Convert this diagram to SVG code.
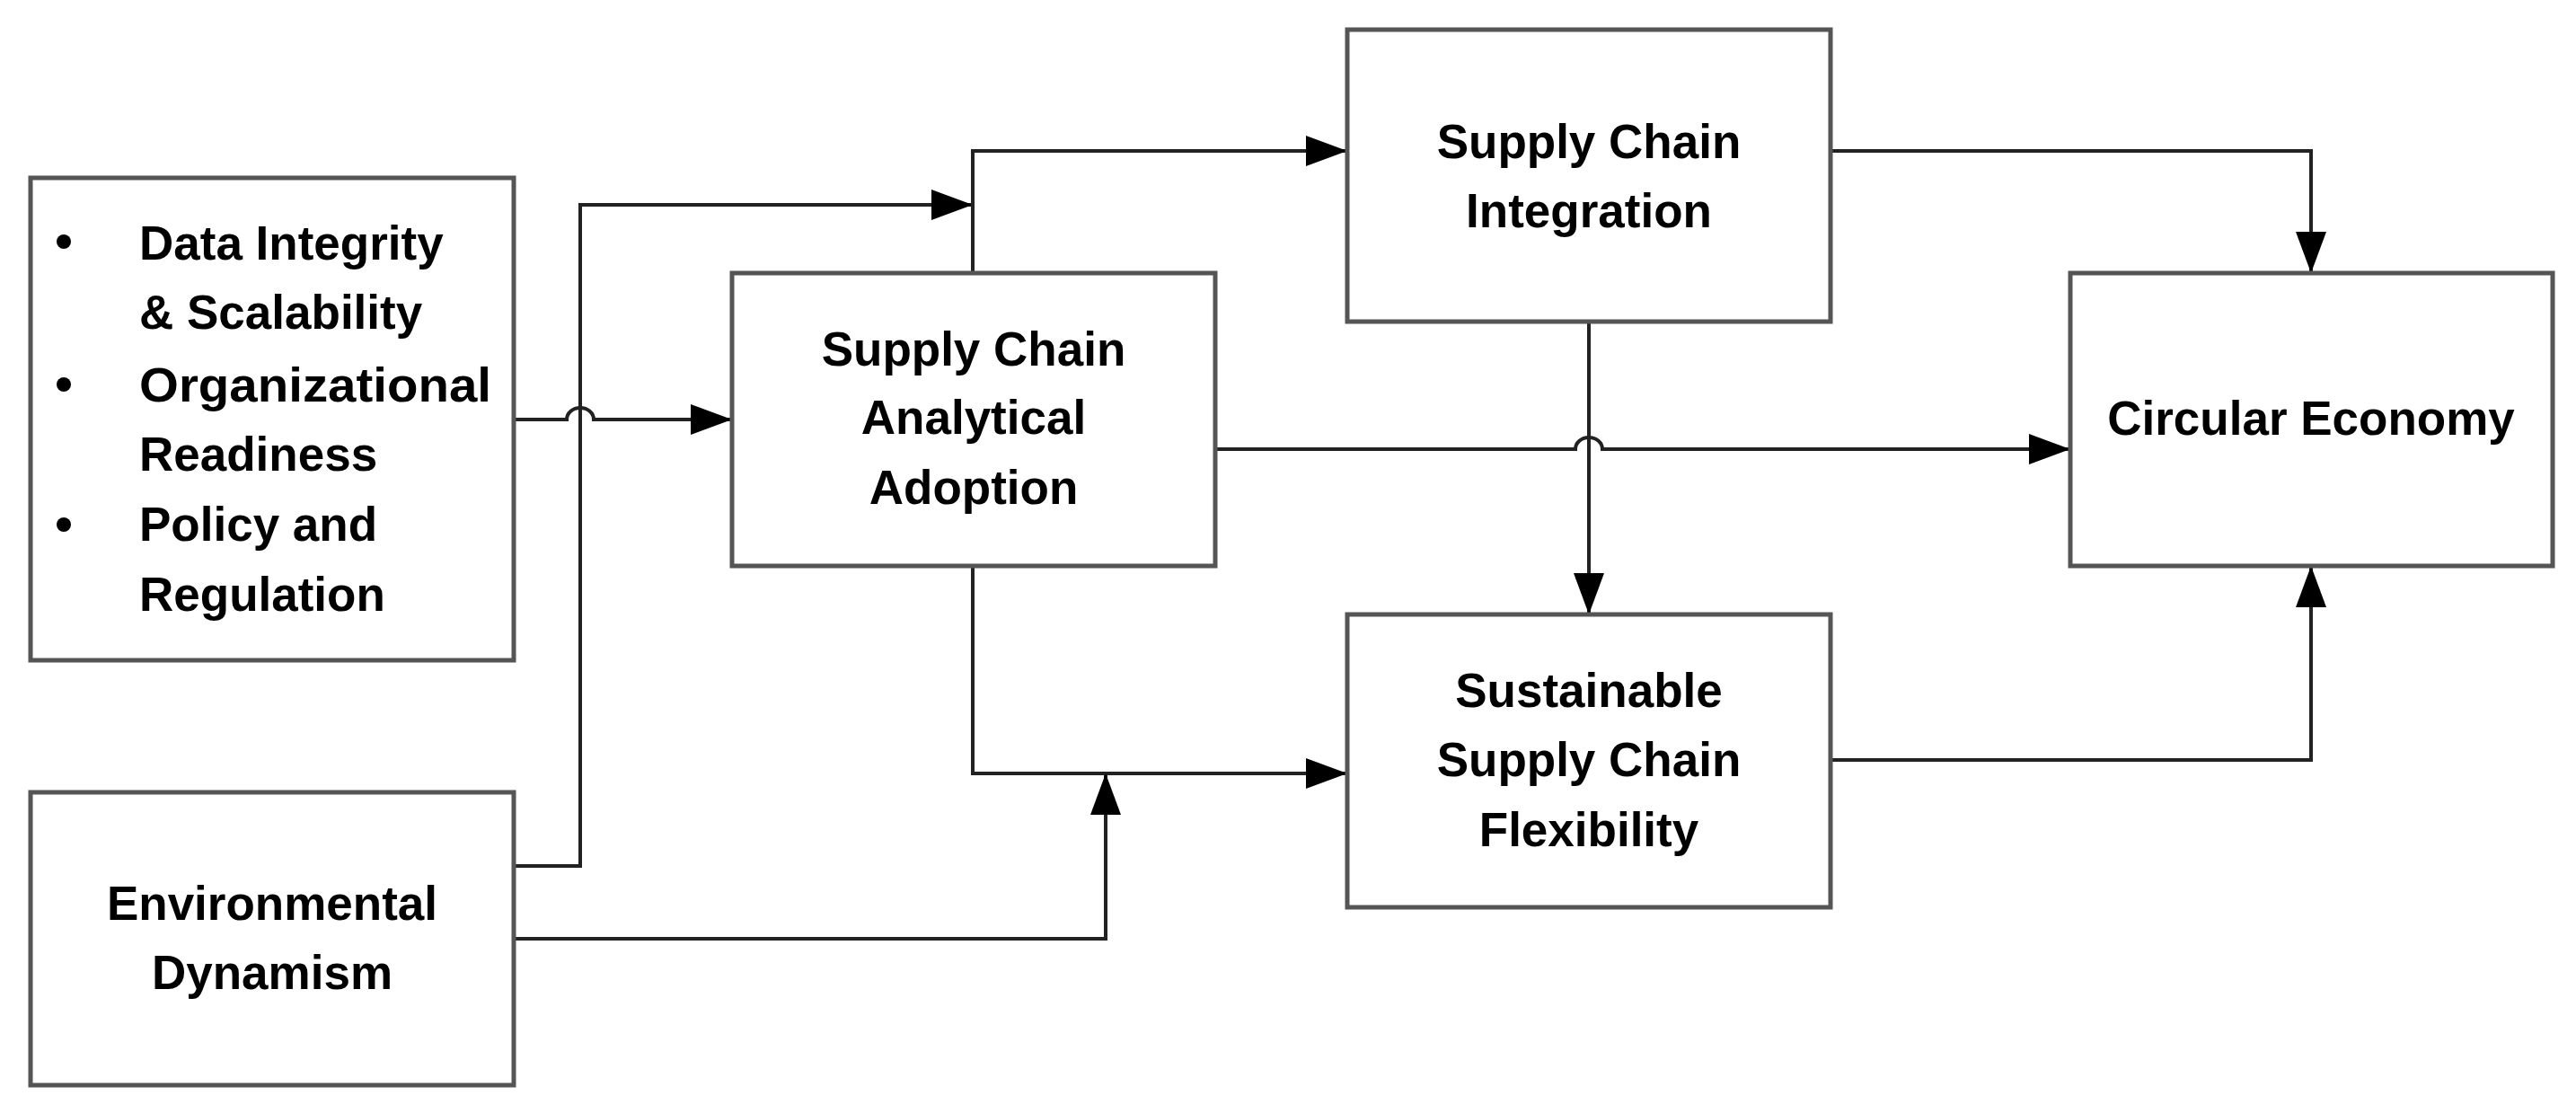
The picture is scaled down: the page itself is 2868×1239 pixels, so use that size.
<svg xmlns="http://www.w3.org/2000/svg" width="2868" height="1239" viewBox="0 0 2868 1239">
<style>
.box{fill:#fff;stroke:#555;stroke-width:5}
.t{font-family:"Liberation Sans",Arial,sans-serif;font-weight:bold;font-size:53px;fill:#000}
.c{text-anchor:middle}
.ln{fill:none;stroke:#222;stroke-width:4}
</style>
<defs>
<marker id="a" markerUnits="userSpaceOnUse" markerWidth="48" markerHeight="34" refX="46" refY="17" orient="auto">
<path d="M0,0 L46,17 L0,34 Z" fill="#000"/>
</marker>
</defs>
<rect width="2868" height="1239" fill="#fff"/>
<g id="connectors">
<path class="ln" d="M572,467 H631 A15,13 0 0 1 661,467 H815" marker-end="url(#a)"/>
<path class="ln" d="M572,964 H646 V228 H1083" marker-end="url(#a)"/>
<path class="ln" d="M1083,304 V168 H1500" marker-end="url(#a)"/>
<path class="ln" d="M2038,168 H2573 V304" marker-end="url(#a)"/>
<path class="ln" d="M1769,358 V684" marker-end="url(#a)"/>
<path class="ln" d="M1353,500 H1754 A15,13 0 0 1 1784,500 H2305" marker-end="url(#a)"/>
<path class="ln" d="M2038,846 H2573 V630" marker-end="url(#a)"/>
<path class="ln" d="M1083,630 V861 H1500" marker-end="url(#a)"/>
<path class="ln" d="M572,1045 H1231 V861" marker-end="url(#a)"/>
</g>
<g id="drivers">
<rect class="box" x="34" y="198" width="538" height="537"/>
<circle cx="71" cy="269" r="8"/><circle cx="71" cy="428" r="8"/><circle cx="71" cy="584" r="8"/>
<text class="t" x="155" y="289">Data Integrity</text>
<text class="t" x="155" y="366">&amp; Scalability</text>
<text class="t" x="155" y="447" textLength="392" lengthAdjust="spacingAndGlyphs">Organizational</text>
<text class="t" x="155" y="524">Readiness</text>
<text class="t" x="155" y="602">Policy and</text>
<text class="t" x="155" y="680">Regulation</text>
</g>
<g id="env">
<rect class="box" x="34" y="882" width="538" height="326"/>
<text class="t c" x="303" y="1024">Environmental</text>
<text class="t c" x="303" y="1101">Dynamism</text>
</g>
<g id="scaa">
<rect class="box" x="815" y="304" width="538" height="326"/>
<text class="t c" x="1084" y="407">Supply Chain</text>
<text class="t c" x="1084" y="483">Analytical</text>
<text class="t c" x="1084" y="561">Adoption</text>
</g>
<g id="sci">
<rect class="box" x="1500" y="33" width="538" height="325"/>
<text class="t c" x="1769" y="176">Supply Chain</text>
<text class="t c" x="1769" y="253">Integration</text>
</g>
<g id="sscf">
<rect class="box" x="1500" y="684" width="538" height="326"/>
<text class="t c" x="1769" y="787">Sustainable</text>
<text class="t c" x="1769" y="864">Supply Chain</text>
<text class="t c" x="1769" y="942">Flexibility</text>
</g>
<g id="ce">
<rect class="box" x="2305" y="304" width="537" height="326"/>
<text class="t c" x="2573" y="484">Circular Economy</text>
</g>
</svg>
